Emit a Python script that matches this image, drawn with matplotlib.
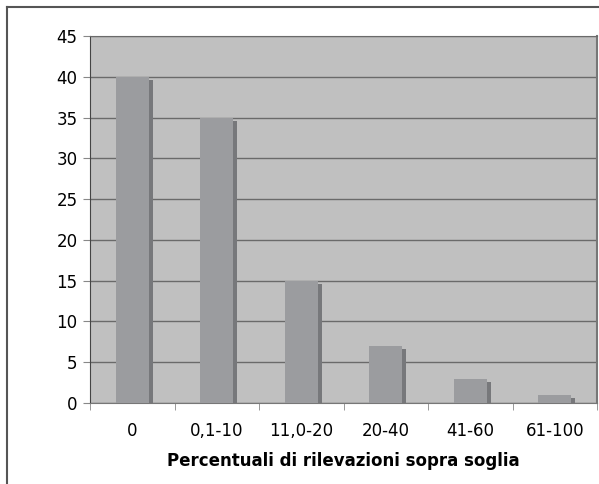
import matplotlib.pyplot as plt
import numpy as np

# Dati del grafico
categorie = ['0', '0,1-10', '11,0-20', '20-40', '41-60', '61-100']
valori = [40, 35, 15, 7, 3, 1]

fig = plt.figure(figsize=(5.99, 4.84), dpi=100)
fig.patch.set_facecolor('white')

# cornice esterna (solo sinistra e alto visibili)
fig.add_artist(plt.Line2D([7/599, 7/599], [0, 1 - 7/484], color='#555555', lw=1.5))
fig.add_artist(plt.Line2D([7/599, 1], [1 - 7/484, 1 - 7/484], color='#555555', lw=1.5))

ax = fig.add_axes([90/599, 81/484, 507/599, 367/484])
ax.set_facecolor('#c0c0c0')

x = np.arange(len(categorie))
larghezza = 0.39
# ombra della barra
ax.bar(x + 0.047, np.array(valori) - 0.4, width=larghezza, color='#77787b', zorder=2)
ax.bar(x, valori, width=larghezza, color='#9b9c9f', zorder=3)

ax.set_xlim(-0.5, len(categorie) - 0.5)
ax.set_ylim(0, 45)
ax.set_yticks(range(0, 46, 5))
ax.yaxis.grid(True, color='#6a6a6a', lw=1)
ax.set_axisbelow(True)

ax.set_xticks(x)
ax.set_xticklabels(categorie, fontsize=12)
ax.set_xticks(np.arange(-0.5, len(categorie)), minor=True)
ax.tick_params(axis='x', which='major', length=0, pad=14)
ax.tick_params(axis='x', which='minor', length=5, color='#888888', direction='out')
ax.tick_params(axis='y', labelsize=12, length=5, color='#888888', pad=4)

for s in ['left']:
    ax.spines[s].set_color('#444444')
ax.spines['bottom'].set_color('#777777')
ax.spines['top'].set_color('#6a6a6a')
ax.spines['right'].set_color('#777777')
ax.spines['right'].set_linewidth(1.5)

ax.set_xlabel('Percentuali di rilevazioni sopra soglia', fontsize=12, fontweight='bold', labelpad=8)

plt.savefig('out.png', dpi=100)
